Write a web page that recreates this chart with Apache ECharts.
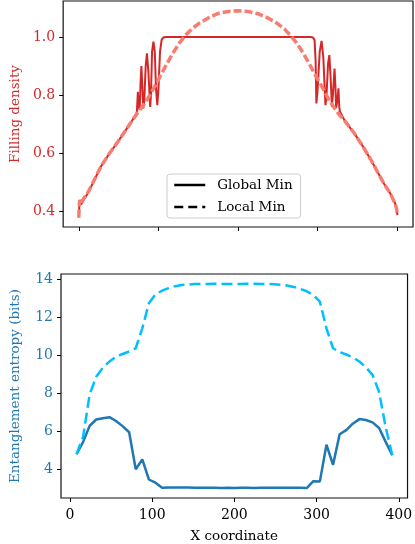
<!DOCTYPE html>
<html>
<head>
<meta charset="utf-8">
<script src="https://cdn.jsdelivr.net/npm/echarts@6/dist/echarts.min.js"></script>
<style>
    html, body { margin: 0; padding: 0; background: #fff; }
    #chart { width: 415px; height: 544px; }
</style>
</head>
<body>
<div id="chart"></div>
<script>

    // Top panel: filling density along x
    var globalDensityX = [0, 1, 3, 6, 12, 20, 28, 38, 49, 59, 67, 72,
        73, 74.2, 75.2, 76.5, 77.5, 78.6, 79.6, 81, 82.2, 84, 85.6, 87.4, 89.6, 90.6, 92, 93.7, 95.4, 97, 98.6, 100, 102, 104, 106, 109,
        291, 294, 296, 297.3, 298.3, 299.6, 302.5, 304.8, 307, 309.7, 311, 313, 314.6, 316.2, 317.8, 319, 321.1, 322.2, 323.1, 324.5, 326, 327, 328,
        334, 346, 357, 367, 375, 383, 391, 395, 397, 399, 400];
    var globalDensity = [0.38, 0.44, 0.425, 0.44, 0.466, 0.512, 0.556, 0.598, 0.64, 0.68, 0.713, 0.735,
        0.745, 0.812, 0.76, 0.75, 0.84, 0.9, 0.84, 0.755, 0.78, 0.9, 0.944, 0.88, 0.76, 0.8, 0.95, 0.984, 0.95, 0.82, 0.766, 0.82, 0.95, 0.99, 0.998, 1.0,
        1.0, 0.998, 0.99, 0.92, 0.772, 0.81, 0.95, 0.987, 0.93, 0.766, 0.8, 0.91, 0.938, 0.86, 0.76, 0.8, 0.892, 0.83, 0.757, 0.78, 0.824, 0.76, 0.743,
        0.712, 0.669, 0.623, 0.577, 0.537, 0.497, 0.463, 0.44, 0.43, 0.41, 0.388];

    var localDensityX = [0, 1, 3, 6, 12, 20, 28, 38, 49, 59, 67, 74, 80, 86, 94, 102, 110, 118, 126, 134, 142, 151, 163, 175, 188, 200,
        212, 225, 237, 249, 258, 266, 274, 282, 290, 298, 306, 314, 322, 328, 334, 346, 357, 367, 375, 383, 391, 395, 397, 399, 400];
    var localDensity = [0.38, 0.44, 0.428, 0.445, 0.468, 0.512, 0.556, 0.598, 0.64, 0.68, 0.713, 0.74, 0.762, 0.786, 0.824, 0.864, 0.905, 0.944, 0.978, 1.006, 1.028, 1.047, 1.066, 1.081, 1.088, 1.09,
        1.088, 1.08, 1.066, 1.047, 1.028, 1.005, 0.978, 0.944, 0.905, 0.864, 0.826, 0.784, 0.752, 0.73, 0.712, 0.669, 0.623, 0.577, 0.537, 0.497, 0.463, 0.44, 0.43, 0.41, 0.388];

    // Bottom panel: entanglement entropy
    var entropyX = [8, 16, 24, 32, 40, 48, 56, 64, 72, 80, 88, 96, 104, 112, 120, 128, 136, 144, 152, 160, 168, 176, 184, 192, 200,
        208, 216, 224, 232, 240, 248, 256, 264, 272, 280, 288, 296, 304, 312, 320, 328, 336, 344, 352, 360, 368, 376, 384, 392];
    var entropyGlobal = [4.77, 5.42, 6.27, 6.6, 6.67, 6.72, 6.52, 6.25, 5.93, 3.98, 4.5, 3.44, 3.27, 3.0, 3.02, 3.02, 3.02, 3.02, 3.01, 3.0, 3.0, 3.0, 2.99, 3.01, 2.99,
        3.01, 3.0, 2.99, 3.0, 3.0, 3.01, 3.01, 3.01, 3.01, 3.0, 2.99, 3.35, 3.34, 5.27, 4.21, 5.82, 6.04, 6.38, 6.62, 6.57, 6.45, 6.15, 5.42, 4.72];
    var entropyLocal = [4.77, 5.7, 7.93, 8.85, 9.33, 9.65, 9.9, 10.05, 10.18, 10.35, 11.4, 12.72, 13.18, 13.38, 13.52, 13.62, 13.68, 13.71, 13.73, 13.74, 13.74, 13.75, 13.74, 13.74, 13.74,
        13.74, 13.75, 13.75, 13.74, 13.74, 13.72, 13.7, 13.65, 13.58, 13.48, 13.35, 13.15, 12.8, 11.4, 10.35, 10.15, 10.02, 9.88, 9.65, 9.35, 8.95, 8.05, 6.2, 4.72];

    var xTicks = [0, 100, 200, 300, 400];
    var densityTicks = [0.4, 0.6, 0.8, 1.0];
    var entropyTicks = [4, 6, 8, 10, 12, 14];

    var FONT = 'DejaVu Serif';
    var RED = '#d62728';
    var BLUE = '#1f77b4';

    function pairs(xs, ys){
        return xs.map(function(x, i){ return [x, ys[i]]; });
    }

    function tick_style(){
        return { show: true, inside: false, length: 4, lineStyle: { color: '#000', width: 1 } };
    }

    var options = {
        animation: false,
        backgroundColor: '#fff',
        textStyle: { fontFamily: FONT },
        grid: [
            { left: 54, top: 1, width: 359, height: 226, show: true, borderColor: '#111', borderWidth: 1.2, backgroundColor: 'transparent' },
            { left: 54, top: 274, width: 359, height: 225, show: true, borderColor: '#111', borderWidth: 1.2, backgroundColor: 'transparent' }
        ],
        legend: {
            left: 167,
            top: 174,
            orient: 'vertical',
            padding: [4, 8, 4, 6],
            itemWidth: 31,
            itemHeight: 14,
            itemGap: 8,
            backgroundColor: 'rgba(255,255,255,0.8)',
            borderColor: '#cccccc',
            borderWidth: 1,
            borderRadius: 3,
            textStyle: { fontFamily: FONT, fontSize: 13.5, color: '#000', padding: [0, 0, 0, 7] },
            data: [
                { name: 'Global Min', lineStyle: { color: '#000', type: 'solid', width: 2.5 }, itemStyle: { color: 'rgba(0,0,0,0)', borderWidth: 0 } },
                { name: 'Local Min', lineStyle: { color: '#000', type: [9, 5], width: 2.5 }, itemStyle: { color: 'rgba(0,0,0,0)', borderWidth: 0 } }
            ]
        },
        xAxis: [
            {
                type: 'value', gridIndex: 0, min: -19.6, max: 419.6,
                axisLine: { show: false, onZero: false },
                splitLine: { show: false },
                axisTick: Object.assign(tick_style(), { customValues: xTicks }),
                axisLabel: { show: false }
            },
            {
                type: 'value', gridIndex: 1, min: -10.9, max: 410.6,
                name: 'X coordinate', nameLocation: 'middle', nameGap: 31,
                nameTextStyle: { fontFamily: FONT, fontSize: 13.5, color: '#000' },
                axisLine: { show: false, onZero: false },
                splitLine: { show: false },
                axisTick: Object.assign(tick_style(), { customValues: xTicks }),
                axisLabel: { customValues: xTicks, margin: 10, fontFamily: FONT, fontSize: 14, color: '#000' }
            }
        ],
        yAxis: [
            {
                type: 'value', gridIndex: 0, min: 0.3474, max: 1.1237,
                name: 'Filling density', nameLocation: 'middle', nameGap: 39,
                nameTextStyle: { fontFamily: FONT, fontSize: 13.5, color: RED },
                axisLine: { show: false, onZero: false },
                splitLine: { show: false },
                axisTick: Object.assign(tick_style(), { customValues: densityTicks }),
                axisLabel: {
                    customValues: densityTicks, margin: 8, fontFamily: FONT, fontSize: 14, color: RED,
                    formatter: function(v){ return v.toFixed(1); }
                }
            },
            {
                type: 'value', gridIndex: 1, min: 2.466, max: 14.26,
                name: 'Entanglement entropy (bits)', nameLocation: 'middle', nameGap: 39,
                nameTextStyle: { fontFamily: FONT, fontSize: 13.5, color: BLUE },
                axisLine: { show: false, onZero: false },
                splitLine: { show: false },
                axisTick: Object.assign(tick_style(), { customValues: entropyTicks }),
                axisLabel: { customValues: entropyTicks, margin: 8, fontFamily: FONT, fontSize: 14, color: BLUE }
            }
        ],
        series: [
            {
                name: 'Global Min', type: 'line', xAxisIndex: 0, yAxisIndex: 0,
                symbol: 'none', z: 2,
                lineStyle: { color: RED, width: 2 },
                itemStyle: { color: RED },
                data: pairs(globalDensityX, globalDensity)
            },
            {
                name: 'Local Min', type: 'line', xAxisIndex: 0, yAxisIndex: 0,
                symbol: 'none', z: 3,
                lineStyle: { color: '#f77d70', width: 3.5, type: [8, 3] },
                itemStyle: { color: '#f77d70' },
                data: pairs(localDensityX, localDensity)
            },
            {
                name: 'Global Min', type: 'line', xAxisIndex: 1, yAxisIndex: 1,
                symbol: 'none', z: 2,
                lineStyle: { color: BLUE, width: 2.5 },
                itemStyle: { color: BLUE },
                data: pairs(entropyX, entropyGlobal)
            },
            {
                name: 'Local Min', type: 'line', xAxisIndex: 1, yAxisIndex: 1,
                symbol: 'none', z: 3,
                lineStyle: { color: '#00bfff', width: 2.5, type: [11, 5] },
                itemStyle: { color: '#00bfff' },
                data: pairs(entropyX, entropyLocal)
            }
        ]
    };

    echarts.init(document.getElementById('chart')).setOption(options);

</script>
</body>
</html>
